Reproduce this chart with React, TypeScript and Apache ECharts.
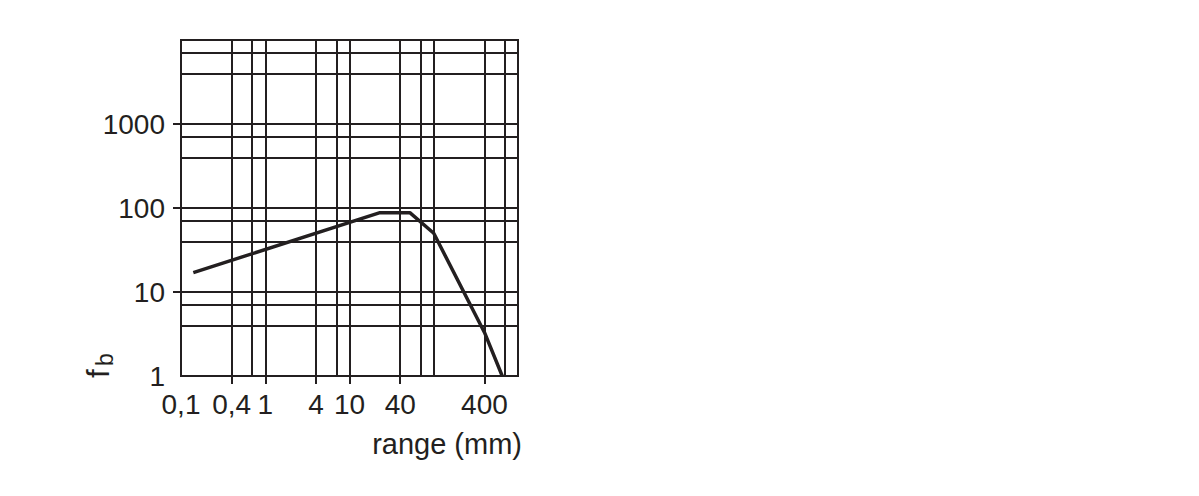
import React, { useEffect, useRef } from "react";
import * as echarts from "echarts";

// Grid lines (log-log chart paper)
const xGridValues = [0.4, 0.7, 1, 4, 7, 10, 40, 70, 100, 400, 700];
const yGridValues = [4, 7, 10, 40, 70, 100, 400, 700, 1000, 4000, 7000];
// Tick labels and tick marks
const xTickLabels = [0.1, 0.4, 1, 4, 10, 40, 400];
const xTickMarks = [0.4, 1, 4, 10, 40, 400];
const yTickLabels = [1, 10, 100, 1000];
const yTickMarks = [10, 100, 1000];
// Curve: range (mm) vs f_b
const rangeMm = [0.14, 23, 52, 100, 400, 650];
const fbValues = [17, 88, 88, 50, 3.3, 1];

const ink = "#231f20";
const textFont = "'Liberation Sans', Arial, sans-serif";

export default function App() {
  const ref = useRef<HTMLDivElement>(null);
  useEffect(() => {
    if (!ref.current) return;
    const chart = echarts.init(ref.current, null, { renderer: "svg" });
    const option: any = {
      animation: false,
      grid: {
        left: 181,
        right: 681,
        top: 40,
        bottom: 120,
        show: true,
        borderColor: ink,
        borderWidth: 2,
        backgroundColor: "transparent",
      },
      xAxis: {
        type: "log",
        logBase: 10,
        min: 0.1,
        max: 1000,
        axisLine: { show: true, lineStyle: { color: ink, width: 2 } },
        axisTick: {
          show: true,
          customValues: xTickMarks,
          length: 8,
          lineStyle: { color: ink, width: 2 },
        },
        axisLabel: {
          customValues: xTickLabels,
          formatter: (v: number) => String(v).replace(".", ","),
          color: ink,
          fontSize: 28,
          fontFamily: textFont,
          margin: 14,
        },
        splitLine: { show: false },
        minorTick: { show: false },
      },
      yAxis: {
        type: "log",
        logBase: 10,
        min: 1,
        max: 10000,
        axisLine: { show: true, lineStyle: { color: ink, width: 2 } },
        axisTick: {
          show: true,
          customValues: yTickMarks,
          length: 8,
          lineStyle: { color: ink, width: 2 },
        },
        axisLabel: {
          customValues: yTickLabels,
          formatter: (v: number) => String(v),
          color: ink,
          fontSize: 28,
          fontFamily: textFont,
          margin: 16,
        },
        splitLine: { show: false },
        minorTick: { show: false },
      },
      graphic: [
        {
          type: "text",
          x: 98,
          y: 378,
          rotation: Math.PI / 2,
          style: {
            text: "f",
            fill: ink,
            font: `31px ${textFont}`,
            align: "left",
            verticalAlign: "middle",
          },
        },
        {
          type: "text",
          x: 105,
          y: 366,
          rotation: Math.PI / 2,
          style: {
            text: "b",
            fill: ink,
            font: `23px ${textFont}`,
            align: "left",
            verticalAlign: "middle",
          },
        },
        {
          type: "text",
          x: 522,
          y: 444,
          style: {
            text: "range (mm)",
            fill: ink,
            font: `29px ${textFont}`,
            align: "right",
            verticalAlign: "middle",
          },
        },
      ],
      series: [
        {
          type: "line",
          data: rangeMm.map((x, i) => [x, fbValues[i]]),
          symbol: "none",
          showSymbol: false,
          silent: true,
          lineStyle: { color: ink, width: 3.5 },
          z: 5,
          markLine: {
            silent: true,
            symbol: ["none", "none"],
            label: { show: false },
            emphasis: { disabled: true },
            lineStyle: { color: ink, width: 2, type: "solid" },
            data: [
              ...xGridValues.map((v) => ({ xAxis: v })),
              ...yGridValues.map((v) => ({ yAxis: v })),
            ],
          },
        },
      ],
    };
    chart.setOption(option);
    return () => chart.dispose();
  }, []);
  return (
    <div
      ref={ref}
      style={{ position: "absolute", left: 0, top: 0, width: 1199, height: 496, background: "#fff" }}
    />
  );
}
